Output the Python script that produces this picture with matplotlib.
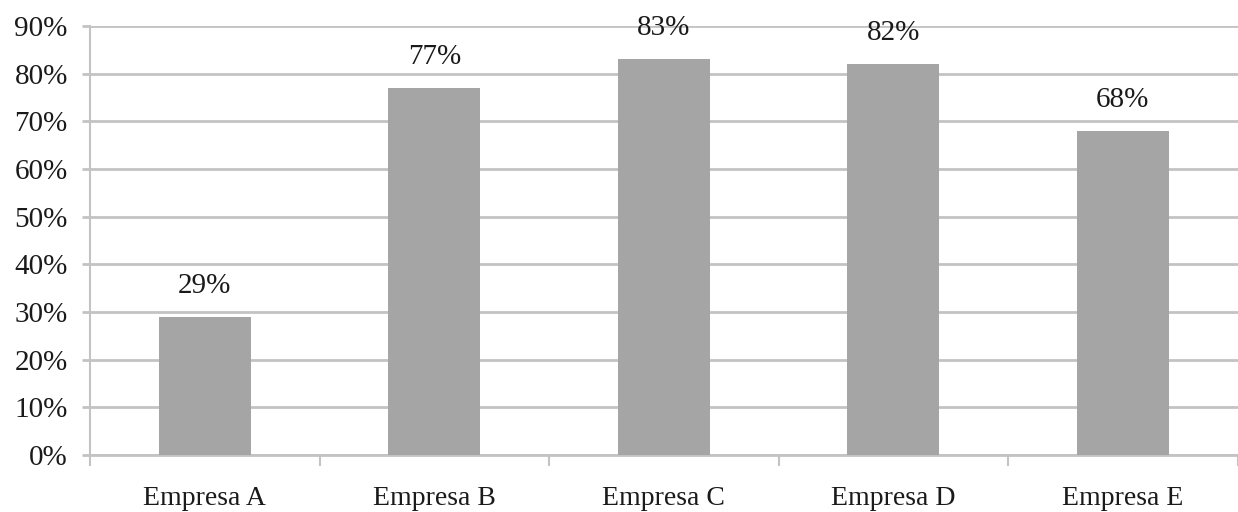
import numpy as np
import matplotlib.pyplot as plt
from matplotlib.ticker import FuncFormatter

# Dane
empresas = ['Empresa A', 'Empresa B', 'Empresa C', 'Empresa D', 'Empresa E']
valores = [29, 77, 83, 82, 68]

plt.rcParams['font.family'] = ['Liberation Serif', 'DejaVu Serif']

fig = plt.figure(figsize=(12.38, 5.12), dpi=100)
ax = fig.add_axes([0.0727, 0.111, 0.927, 0.838])

grid_color = '#c3c3c3'
text_color = '#1a1a1a'
x = np.arange(len(empresas))
ax.bar(x, valores, width=0.4, color='#a5a5a5', zorder=3)

for xi, v in zip(x, valores):
    ax.annotate(f'{v}%', (xi, v), xytext=(0, 13), textcoords='offset points',
                ha='center', va='bottom', fontsize=21, color=text_color)

ax.set_xlim(-0.5, len(empresas) - 0.5)
ax.set_ylim(0, 90)
ax.set_yticks(np.arange(0, 91, 10))
ax.yaxis.set_major_formatter(FuncFormatter(lambda v, p: f'{v:.0f}%'))
ax.yaxis.grid(True, color=grid_color, linewidth=2, zorder=0)

# etykiety kategorii w środku, kreski na granicach
ax.set_xticks(x)
ax.set_xticklabels(empresas)
ax.set_xticks(np.arange(-0.5, len(empresas), 1), minor=True)
ax.tick_params(axis='x', which='major', length=0, labelsize=20, pad=22, labelcolor=text_color)
ax.tick_params(axis='x', which='minor', length=8, width=1.5, color=grid_color)
ax.tick_params(axis='y', length=6, width=2, color=grid_color, labelsize=21,
               labelcolor=text_color, pad=10)

for s in ['top', 'right']:
    ax.spines[s].set_visible(False)
ax.spines['left'].set_color(grid_color)
ax.spines['left'].set_linewidth(1.5)
ax.spines['bottom'].set_color(grid_color)
ax.spines['bottom'].set_linewidth(2)

fig.savefig('out.png', dpi=100)
